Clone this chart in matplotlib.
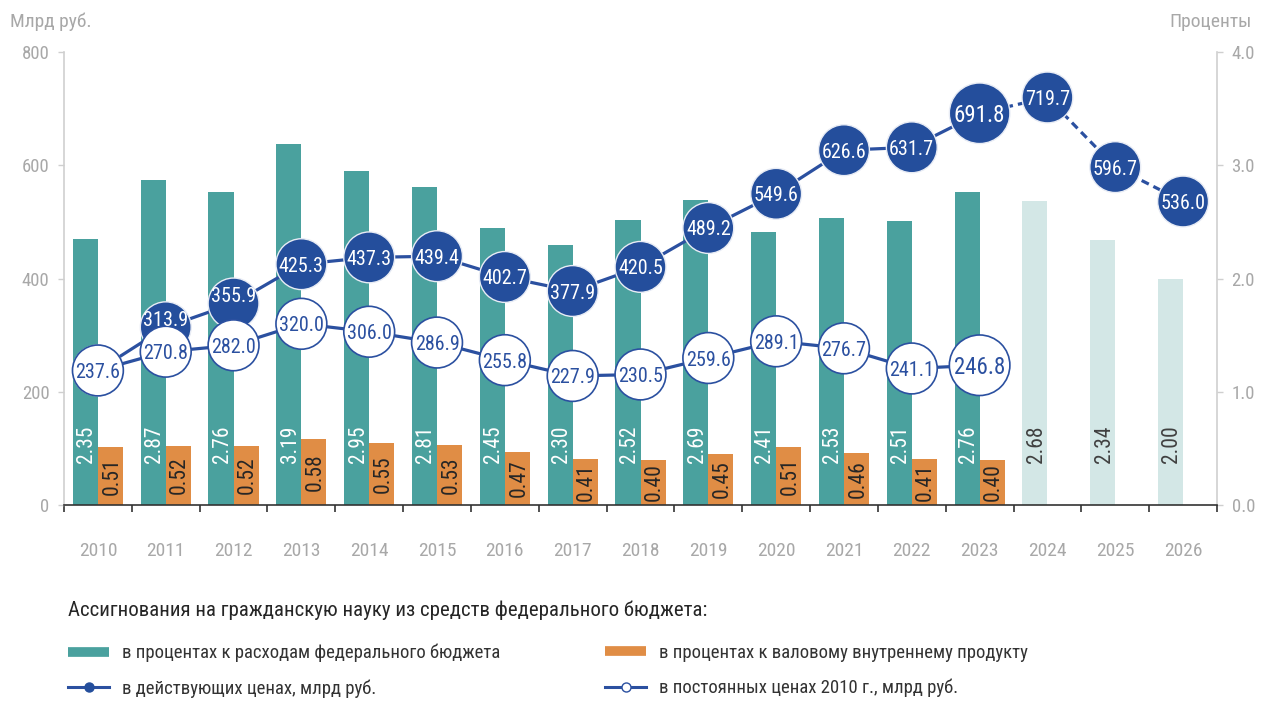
import numpy as np
import matplotlib
matplotlib.use("Agg")
import matplotlib.pyplot as plt
from matplotlib import font_manager
from matplotlib.lines import Line2D

# --- data ---
years = [2010, 2011, 2012, 2013, 2014, 2015, 2016, 2017, 2018, 2019,
         2020, 2021, 2022, 2023, 2024, 2025, 2026]
# % of federal budget expenditure (2024-2026 are plan values)
pct_budget = [2.35, 2.87, 2.76, 3.19, 2.95, 2.81, 2.45, 2.30, 2.52, 2.69,
              2.41, 2.53, 2.51, 2.76, 2.68, 2.34, 2.00]
# % of GDP (2010-2023)
pct_gdp = [0.51, 0.52, 0.52, 0.58, 0.55, 0.53, 0.47, 0.41, 0.40, 0.45,
           0.51, 0.46, 0.41, 0.40]
# current prices, bn rub
current_prices = [237.6, 313.9, 355.9, 425.3, 437.3, 439.4, 402.7, 377.9, 420.5,
                  489.2, 549.6, 626.6, 631.7, 691.8, 719.7, 596.7, 536.0]
# constant 2010 prices, bn rub
constant_prices = [237.6, 270.8, 282.0, 320.0, 306.0, 286.9, 255.8, 227.9, 230.5,
                   259.6, 289.1, 276.7, 241.1, 246.8]
last_actual_year = 2023

TEAL = "#4aa19e"
TEAL_LIGHT = "#d3e7e6"
ORANGE = "#e08d45"
BLUE = "#244e9c"
LINE_BLUE = "#2b50a0"
GREY = "#a8a8a8"
SPINE = "#cfcfcf"


def pick_font():
    for name in ["Liberation Sans Narrow", "Roboto Condensed", "Open Sans Condensed"]:
        try:
            font_manager.findfont(font_manager.FontProperties(family=name),
                                  fallback_to_default=False)
            return name, 1.0
        except ValueError:
            pass
    return "Liberation Sans", 0.82


FONT, k = pick_font()
plt.rcParams["font.family"] = [FONT, "DejaVu Sans"]

W, H = 1261, 704
fig = plt.figure(figsize=(W / 100, H / 100), dpi=100)
ax = fig.add_axes([64 / W, 199 / H, (1217 - 64) / W, (505 - 52) / H])
axp = ax.twinx()
ax.set_zorder(axp.get_zorder() + 1)
ax.patch.set_visible(False)

x = np.arange(len(years))
n_act = years.index(last_actual_year) + 1

# --- bars (right axis, percent) ---
bar_w = 0.37
bar_colors = [TEAL if i < n_act else TEAL_LIGHT for i in range(len(years))]
axp.bar(x - bar_w / 2, pct_budget, width=bar_w, color=bar_colors, zorder=2)
axp.bar(x[:n_act] + bar_w / 2, pct_gdp, width=bar_w, color=ORANGE, zorder=2)

for i, v in enumerate(pct_budget):
    axp.text(x[i] - bar_w / 2 + 0.02, 0.54, f"{v:.2f}", rotation=90, ha="center", va="center",
             fontsize=15.5 * k, color="white" if i < n_act else "#404040", zorder=3)
for i, v in enumerate(pct_gdp):
    axp.text(x[i] + bar_w / 2 + 0.02, v / 2, f"{v:.2f}", rotation=90, ha="center", va="center",
             fontsize=15.5 * k, color="#262626", zorder=3)

axp.set_ylim(0, 4.0)
axp.set_yticks(np.arange(0, 4.01, 1.0))
axp.set_yticklabels([f"{t:.1f}" for t in np.arange(0, 4.01, 1.0)])

# --- lines (left axis, bn rub) ---
lw = 2.3
ax.plot(x[:n_act], current_prices[:n_act], color=LINE_BLUE, lw=lw, zorder=3,
        solid_capstyle="round")
ax.plot(x[n_act - 1:], current_prices[n_act - 1:], color=LINE_BLUE, lw=lw,
        ls=(0, (2.5, 1.6)), zorder=3)

sizes_cur = [1900 if y == last_actual_year else 1340 for y in years]
ax.scatter(x, current_prices, s=sizes_cur, color=BLUE, edgecolor="#e8ecf5",
           linewidth=1.0, zorder=4, clip_on=False)
for i, v in enumerate(current_prices):
    big = years[i] == last_actual_year
    # nudge a label up when the constant-price circle sits right under it
    close = i < len(constant_prices) and 0 < v - constant_prices[i] < 80
    ax.annotate(f"{v:.1f}", (x[i], v), xytext=(0, 6.5 if close else 0),
                textcoords="offset points", ha="center", va="center_baseline",
                fontsize=(16.5 if big else 14.5) * k, color="white",
                zorder=9 if close else 5, annotation_clip=False)

xc = x[:len(constant_prices)]
ax.plot(xc, constant_prices, color=LINE_BLUE, lw=lw, zorder=6)
sizes_con = [1900 if years[i] == last_actual_year else 1340 for i in range(len(constant_prices))]
ax.scatter(xc, constant_prices, s=sizes_con, color="white", edgecolor=LINE_BLUE,
           linewidth=1.2, zorder=7, clip_on=False)
for i, v in enumerate(constant_prices):
    big = years[i] == last_actual_year
    ax.text(x[i], v, f"{v:.1f}", ha="center", va="center_baseline",
            fontsize=(16.5 if big else 14.5) * k, color=LINE_BLUE, zorder=8, clip_on=False)

ax.set_ylim(0, 800)
ax.set_yticks(np.arange(0, 801, 200))
ax.set_xlim(-0.5, len(years) - 0.5)

# --- axes styling ---
ax.set_xticks(x)
ax.set_xticklabels([str(y) for y in years])
ax.set_xticks(np.arange(-0.5, len(years)), minor=True)
ax.tick_params(axis="x", which="major", length=0, pad=27, labelsize=14 * k, labelcolor=GREY)
ax.tick_params(axis="x", which="minor", length=5, width=1.2, color="#333333", direction="out")
ax.tick_params(axis="y", length=4.5, width=1, color=SPINE, labelsize=13.5 * k,
               labelcolor=GREY, pad=6)
axp.tick_params(axis="y", length=4.5, width=1, color=SPINE, labelsize=13.5 * k,
                labelcolor=GREY, pad=6)

for s in ["top", "right"]:
    ax.spines[s].set_visible(False)
for s in ["top", "left", "bottom"]:
    axp.spines[s].set_visible(False)
ax.spines["left"].set_color(SPINE)
ax.spines["left"].set_linewidth(1.2)
axp.spines["right"].set_color(SPINE)
axp.spines["right"].set_linewidth(1.2)
ax.spines["bottom"].set_color("#333333")
ax.spines["bottom"].set_linewidth(1.2)

fig.text(10 / W, 1 - 22 / H, "Млрд руб.", ha="left", va="center", fontsize=14 * k, color=GREY)
fig.text(1252 / W, 1 - 22 / H, "Проценты", ha="right", va="center", fontsize=14 * k, color=GREY)

# --- legend ---
fig.text(68 / W, 1 - 610 / H, "Ассигнования на гражданскую науку из средств федерального бюджета:",
         ha="left", va="center", fontsize=15 * k, color="#262626")

h_teal = Line2D([], [], color=TEAL, lw=7, solid_capstyle="butt")
h_orange = Line2D([], [], color=ORANGE, lw=7, solid_capstyle="butt")
h_cur = Line2D([], [], color=LINE_BLUE, lw=2.2, marker="o", ms=6.5, mfc=BLUE, mec=BLUE)
h_con = Line2D([], [], color=LINE_BLUE, lw=2.2, marker="o", ms=6.5, mfc="white", mec=LINE_BLUE)

leg_kw = dict(loc="upper left", frameon=False, fontsize=13.5 * k, handlelength=2.2,
              handletextpad=0.7, labelspacing=0.9, borderpad=0, borderaxespad=0,
              labelcolor="#333333")
leg1 = fig.legend([h_teal, h_cur],
                  ["в процентах к расходам федерального бюджета",
                   "в действующих ценах, млрд руб."],
                  bbox_to_anchor=(68 / W, 1 - 644 / H), **leg_kw)
leg2 = fig.legend([h_orange, h_con],
                  ["в процентах к валовому внутреннему продукту",
                   "в постоянных ценах 2010 г., млрд руб."],
                  bbox_to_anchor=(605 / W, 1 - 644 / H), **leg_kw)

fig.savefig("out.png", dpi=100)
